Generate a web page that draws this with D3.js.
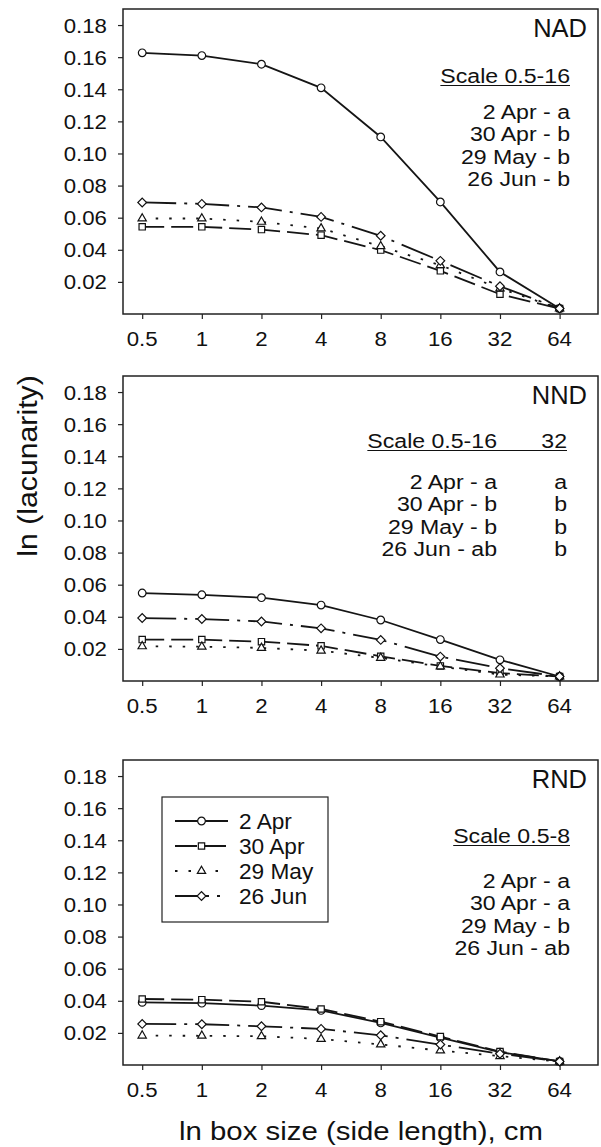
<!DOCTYPE html>
<html>
<head>
<meta charset="utf-8">
<script src="https://cdn.jsdelivr.net/npm/d3@7"></script>
<style>
body { margin: 0; background: #fff; }
svg text { font-family: "Liberation Sans", Arial, sans-serif; fill: #111; }
</style>
</head>
<body>
<svg id="chart" width="601" height="1147"></svg>
<script>
var boxSizes = [0.5, 1, 2, 4, 8, 16, 32, 64]
var dates = ['2 Apr', '30 Apr', '29 May', '26 Jun']
var yTicks = [0.02, 0.04, 0.06, 0.08, 0.10, 0.12, 0.14, 0.16, 0.18]

// values per date, same order as dates
var nadValues = [
  [0.1627, 0.1610, 0.1556, 0.1409, 0.1103, 0.0698, 0.0262, 0.0034],
  [0.0543, 0.0543, 0.0526, 0.0491, 0.0398, 0.0269, 0.0123, 0.0034],
  [0.0595, 0.0595, 0.0574, 0.0533, 0.0422, 0.0304, 0.0159, 0.0034],
  [0.0695, 0.0686, 0.0664, 0.0605, 0.0487, 0.0331, 0.0173, 0.0034]
]
var nndValues = [
  [0.0548, 0.0537, 0.0519, 0.0473, 0.0380, 0.0258, 0.0132, 0.0028],
  [0.0258, 0.0258, 0.0245, 0.0219, 0.0154, 0.0094, 0.0049, 0.0028],
  [0.0216, 0.0214, 0.0206, 0.0189, 0.0144, 0.0090, 0.0040, 0.0028],
  [0.0392, 0.0386, 0.0371, 0.0328, 0.0256, 0.0152, 0.0080, 0.0028]
]
var rndValues = [
  [0.0390, 0.0385, 0.0370, 0.0340, 0.0262, 0.0170, 0.0080, 0.0022],
  [0.0411, 0.0407, 0.0394, 0.0349, 0.0270, 0.0177, 0.0084, 0.0022],
  [0.0183, 0.0182, 0.0179, 0.0162, 0.0128, 0.0090, 0.0055, 0.0022],
  [0.0256, 0.0254, 0.0241, 0.0225, 0.0185, 0.0127, 0.0070, 0.0022]
]

var nadStats = ['2 Apr - a', '30 Apr - b', '29 May - b', '26 Jun - b']
var nndStats = ['2 Apr - a', '30 Apr - b', '29 May - b', '26 Jun - ab']
var nndStats32 = ['a', 'b', 'b', 'b']
var rndStats = ['2 Apr - a', '30 Apr - a', '29 May - b', '26 Jun - ab']

var panels = [
  {name: 'NAD', values: nadValues, scale: 'Scale 0.5-16', stats: nadStats, top: 9, scaleY: 74, statsY: 110, legend: false},
  {name: 'NND', values: nndValues, scale: 'Scale 0.5-16', scale2: '32', stats: nndStats, stats2: nndStats32, top: 376, scaleY: 72, statsY: 113, legend: false},
  {name: 'RND', values: rndValues, scale: 'Scale 0.5-8', stats: rndStats, top: 760, scaleY: 83, statsY: 128, legend: true}
]

var dashes = [null, '22,7', '2.5,11', '34,8,3,8']
var symbols = [d3.symbolCircle, d3.symbolSquare, d3.symbolTriangle, d3.symbolSquare]
var symSize = [46, 40, 30, 38]
var symRot = [0, 0, 0, 45]

var left = 123, width = 475, height = 305
var sx = 1.1 // text looks horizontally stretched in the scan

var svg = d3.select('#chart')

var x = d3.scaleLog().base(2).domain([0.4, 100]).range([0, width])
var y = d3.scaleLinear().domain([0, 0.19]).range([height, 0])

var line = d3.line()
  .x(function(d){ return x(d[0]) })
  .y(function(d){ return y(d[1]) })

function txt(g, px, py, str, size, anchor, stretch){
  return g.append('text')
    .attr('transform', 'translate(' + px + ',' + py + ') scale(' + (stretch || sx) + ',1)')
    .attr('text-anchor', anchor || 'start')
    .style('font-size', size + 'px')
    .text(str)
}

function marker(g, i, px, py){
  g.append('path')
    .attr('d', d3.symbol().type(symbols[i]).size(symSize[i])())
    .attr('transform', 'translate(' + px + ',' + py + ') rotate(' + symRot[i] + ')')
    .attr('fill', '#fff')
    .attr('stroke', '#111')
    .attr('stroke-width', 1.2)
}

panels.forEach(function(p){
  var g = svg.append('g').attr('transform', 'translate(' + left + ',' + p.top + ')')

  g.append('rect')
    .attr('width', width).attr('height', height)
    .attr('fill', 'none').attr('stroke', '#222').attr('stroke-width', 1.5)

  // y axis
  var ya = g.append('g').call(d3.axisLeft(y).tickValues(yTicks).tickSize(5).tickFormat(d3.format('.2f')))
  ya.select('.domain').remove()
  ya.selectAll('line').attr('stroke', '#222').attr('stroke-width', 1.2)
  ya.selectAll('text').remove()
  yTicks.forEach(function(t){
    txt(g, -16, y(t) + 7.5, d3.format('.2f')(t), 21, 'end', 1.06)
  })

  // x axis
  var xa = g.append('g').attr('transform', 'translate(0,' + height + ')')
    .call(d3.axisBottom(x).tickValues(boxSizes).tickSize(5))
  xa.select('.domain').remove()
  xa.selectAll('line').attr('stroke', '#222').attr('stroke-width', 1.2)
  xa.selectAll('text').remove()
  boxSizes.forEach(function(b){
    txt(g, x(b), height + 32, String(b), 21, 'middle', 1.06)
  })

  // series
  p.values.forEach(function(vals, i){
    var pts = boxSizes.map(function(b, j){ return [b, vals[j]] })
    g.append('path')
      .attr('d', line(pts))
      .attr('fill', 'none')
      .attr('stroke', '#151515')
      .attr('stroke-width', 1.8)
      .attr('stroke-dasharray', dashes[i])
  })
  p.values.forEach(function(vals, i){
    boxSizes.forEach(function(b, j){ marker(g, i, x(b), y(vals[j])) })
  })

  // panel name
  txt(g, width - 11, 28, p.name, 25, 'end', 1.02)

  // significance text
  var r1 = width - 28
  if (p.scale2){
    r1 = width - 101
    var r2 = width - 31
    var s = txt(g, r1, p.scaleY, p.scale, 21, 'end')
    txt(g, r2, p.scaleY, p.scale2, 21, 'end')
    var w = s.node().getComputedTextLength() * sx
    g.append('line').attr('x1', r1 - w).attr('x2', r2).attr('y1', p.scaleY + 2.5).attr('y2', p.scaleY + 2.5)
      .attr('stroke', '#111').attr('stroke-width', 1.2)
    p.stats2.forEach(function(t, k){ txt(g, r2, p.statsY + k * 22.4, t, 21, 'end') })
  } else {
    var s = txt(g, r1, p.scaleY, p.scale, 21, 'end')
    var w = s.node().getComputedTextLength() * sx
    g.append('line').attr('x1', r1 - w).attr('x2', r1).attr('y1', p.scaleY + 2.5).attr('y2', p.scaleY + 2.5)
      .attr('stroke', '#111').attr('stroke-width', 1.2)
  }
  p.stats.forEach(function(t, k){ txt(g, r1, p.statsY + k * 22.4, t, 21, 'end') })

  // legend
  if (p.legend){
    var lg = g.append('g').attr('transform', 'translate(39,37)')
    lg.append('rect').attr('width', 166).attr('height', 125)
      .attr('fill', '#fff').attr('stroke', '#222').attr('stroke-width', 1.2)
    dates.forEach(function(d, i){
      var ly = 24 + i * 25
      lg.append('line').attr('x1', 13).attr('x2', 66).attr('y1', ly).attr('y2', ly)
        .attr('stroke', '#151515').attr('stroke-width', 1.8)
        .attr('stroke-dasharray', dashes[i])
      marker(lg, i, 39.5, ly)
      txt(lg, 77, ly + 8, d, 22, 'start', 1.03)
    })
  }
})

// axis titles
txt(svg, 361, 1140, 'ln box size (side length), cm', 26, 'middle', 1.13)
svg.append('text')
  .attr('transform', 'translate(37,466) rotate(-90) scale(1.12,1)')
  .attr('text-anchor', 'middle')
  .style('font-size', '27px')
  .text('ln (lacunarity)')
</script>
</body>
</html>
